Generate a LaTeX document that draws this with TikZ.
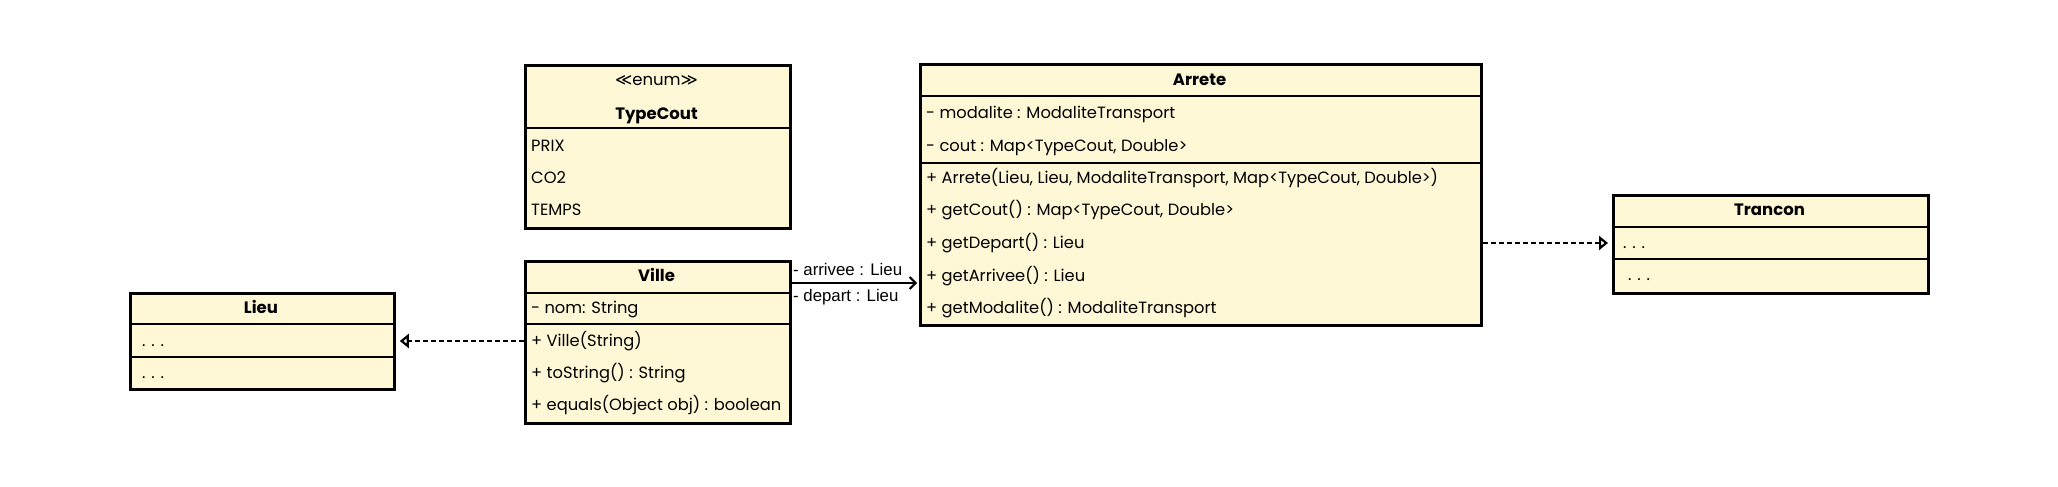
\documentclass[tikz,border=0pt]{standalone}
\usepackage{fontspec}
\setmainfont{Poppins}
\newfontfamily\labelfont{Liberation Sans}
\newfontfamily\symbfont{DejaVu Sans}
\usetikzlibrary{arrows.meta,positioning}
\definecolor{classfill}{HTML}{FFF8D6}

\tikzset{
  classbox/.style={draw, fill=classfill, line width=2.8pt, rectangle, inner sep=0pt, anchor=north west},
  member/.style={anchor=west, inner sep=0pt, text height=11.5pt, text depth=0pt, font=\fontsize{16.3}{20}\selectfont},
  classname/.style={inner sep=0pt, text height=11.5pt, text depth=0pt, font=\fontsize{16.5}{20}\selectfont\bfseries},
  divider/.style={line width=2.8pt},
  realize/.style={dash pattern=on 5pt off 3pt, line width=2pt, -{Triangle[open,length=9pt,width=14pt,line width=2.2pt]}, shorten >=4pt},
  assoc/.style={line width=2pt, -{Straight Barb[length=6pt,width=12pt]}, shorten >=2pt},
  rolelabel/.style={anchor=west, inner sep=0pt, font=\labelfont\fontsize{16.8}{20}\selectfont},
}

\begin{document}
\begin{tikzpicture}[x=1pt, y=-1pt]
    \useasboundingbox[fill=white] (0,0) rectangle (2058,487);

    % Lieu
    \node[classbox, minimum width=264pt, minimum height=96pt] (lieu) at (129,292) {};
    \node[classname] (lieu-name) at (261,308) {Lieu};
    \draw[divider] (129,324) -- (393,324);
    \draw[divider] (129,357) -- (393,357);
    \node[member] (lieu-attr) at (142,340.5) {. . .};
    \node[member] (lieu-ops) at (142,372.5) {. . .};

    % TypeCout (enum)
    \node[classbox, minimum width=265pt, minimum height=163pt] (typecout) at (524,64) {};
    \node[classname, font=\fontsize{16.5}{20}\selectfont] (typecout-stereo) at (656.5,80) {{\symbfont ≪}enum{\symbfont ≫}};
    \node[classname] (typecout-name) at (656.5,114) {TypeCout};
    \draw[divider] (524,128) -- (789,128);
    \foreach \y/\v in {146/PRIX, 178/CO2, 210/TEMPS}
        \node[member] (typecout-\v) at (531,\y) {\v};

    % Ville
    \node[classbox, minimum width=265pt, minimum height=162pt] (ville) at (524,260) {};
    \node[classname] (ville-name) at (656.5,276) {Ville};
    \draw[divider] (524,293) -- (789,293);
    \node[member] (ville-a1) at (531,308) {- nom: String};
    \draw[divider] (524,324) -- (789,324);
    \node[member] (ville-m1) at (531,341) {+ Ville(String)};
    \node[member] (ville-m2) at (531,373) {+ toString() : String};
    \node[member] (ville-m3) at (531,405) {+ equals(Object obj) : boolean};

    % Arrete
    \node[classbox, minimum width=561pt, minimum height=261pt] (arrete) at (919,63) {};
    \node[classname] (arrete-name) at (1199.5,80) {Arrete};
    \draw[divider] (919,96) -- (1480,96);
    \node[member] (arrete-a1) at (926,113) {- modalite : ModaliteTransport};
    \node[member] (arrete-a2) at (926,146) {- cout : Map<TypeCout, Double>};
    \draw[divider] (919,163) -- (1480,163);
    \node[member] (arrete-m1) at (926,178) {+ Arrete(Lieu, Lieu, ModaliteTransport, Map<TypeCout, Double>)};
    \node[member] (arrete-m2) at (926,210) {+ getCout() : Map<TypeCout, Double>};
    \node[member] (arrete-m3) at (926,243) {+ getDepart() : Lieu};
    \node[member] (arrete-m4) at (926,276) {+ getArrivee() : Lieu};
    \node[member] (arrete-m5) at (926,308) {+ getModalite() : ModaliteTransport};

    % Trancon
    \node[classbox, minimum width=315pt, minimum height=98pt] (trancon) at (1612,194) {};
    \node[classname] (trancon-name) at (1769.5,210) {Trancon};
    \draw[divider] (1612,227) -- (1927,227);
    \node[member] (trancon-attr) at (1623,243) {. . .};
    \draw[divider] (1612,259) -- (1927,259);
    \node[member] (trancon-ops) at (1628,275) {. . .};

    % Connectors
    \coordinate (link-y) at (0,283);
    \draw[realize] (ville.west |- ville-m1) -- (lieu.east |- ville-m1);
    \draw[realize] (arrete.east |- arrete-m3) -- (trancon.west |- arrete-m3);
    \draw[assoc] (ville.east |- link-y) -- (arrete.west |- link-y);
    \node[rolelabel] (role-arrivee) at (793,269) {- arrivee : Lieu};
    \node[rolelabel] (role-depart) at (793,297) {- depart : Lieu};
\end{tikzpicture}
\end{document}
